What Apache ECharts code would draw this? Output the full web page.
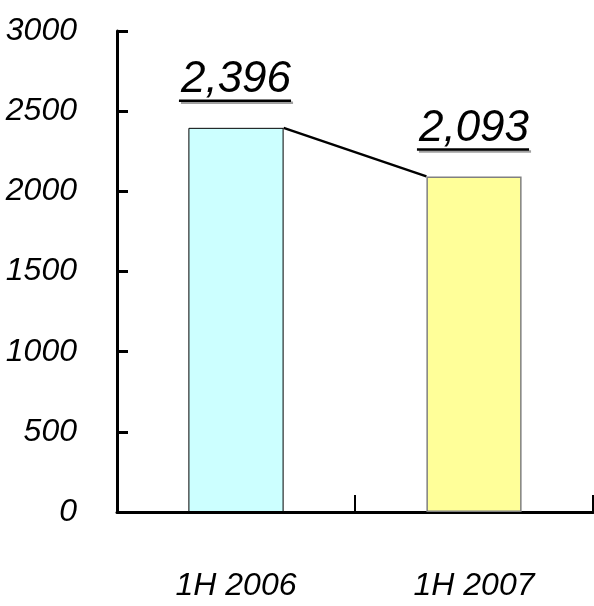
<!DOCTYPE html>
<html>
<head>
<meta charset="utf-8">
<script src="https://cdn.jsdelivr.net/npm/echarts@6/dist/echarts.min.js"></script>
<style>
  html, body { margin: 0; padding: 0; background: #fff; }
  #chart { width: 594px; height: 606px; }
</style>
</head>
<body>
<div id="chart"></div>
<script>
  // data
  var categories = ['1H 2006', '1H 2007'];
  var values = [2396, 2093];
  var valueLabels = ['2,396', '2,093'];
  var yTicks = { min: 0, max: 3000, step: 500 };

  var FONT = '"Liberation Sans Narrow", "Liberation Sans", Arial, sans-serif';
  var BAR_RATIO = 0.4;
  var LABEL_SIZE = 44;

  // measure text width so the underline matches the label
  var measureCtx = document.createElement('canvas').getContext('2d');
  function textWidth(txt) {
    measureCtx.font = 'italic ' + LABEL_SIZE + 'px ' + FONT;
    return measureCtx.measureText(txt).width;
  }

  // value label with underline + drop shadow, above each bar
  function renderValueLabel(params, api) {
    var pt = api.coord([api.value(0), api.value(1)]);
    var txt = valueLabels[params.dataIndex];
    var w = textWidth(txt);
    var x = pt[0];
    var lineY = pt[1] - 27;
    var x1 = x - w / 2 - 2, x2 = x + w / 2;
    return {
      type: 'group',
      children: [
        { type: 'line', shape: { x1: x1 + 2, y1: lineY + 2, x2: x2 + 2, y2: lineY + 2 },
          style: { stroke: '#a0a0a0', lineWidth: 2.5 } },
        { type: 'line', shape: { x1: x1, y1: lineY, x2: x2, y2: lineY },
          style: { stroke: '#000', lineWidth: 2.5 } },
        { type: 'text', style: {
            text: txt, x: x, y: pt[1] - 48, align: 'center', verticalAlign: 'middle',
            font: 'italic ' + LABEL_SIZE + 'px ' + FONT, fill: '#000',
            textShadowColor: '#a0a0a0', textShadowOffsetX: 2, textShadowOffsetY: 2, textShadowBlur: 0
        } }
      ]
    };
  }

  // series line joining the top of bar 1 to the top of bar 2
  function renderConnector(params, api) {
    var p1 = api.coord([api.value(0), api.value(1)]);
    var p2 = api.coord([api.value(2), api.value(3)]);
    var half = api.size([1, 0])[0] * BAR_RATIO / 2;
    return {
      type: 'line',
      shape: { x1: p1[0] + half, y1: p1[1], x2: p2[0] - half, y2: p2[1] },
      style: { stroke: '#000', lineWidth: 2.5 }
    };
  }

  var chart = echarts.init(document.getElementById('chart'));
  chart.setOption({
    animation: false,
    grid: { left: 117, right: 1, top: 31, bottom: 94, containLabel: false, outerBoundsMode: 'none' },
    xAxis: {
      type: 'category',
      data: categories,
      axisLine: { lineStyle: { color: '#000', width: 3 } },
      axisTick: { show: true, interval: 0, inside: true, length: 17, lineStyle: { color: '#000', width: 2 } },
      axisLabel: {
        margin: 58, color: '#000', fontStyle: 'italic', fontSize: 32, fontFamily: FONT
      },
      splitLine: { show: false }
    },
    yAxis: {
      type: 'value',
      min: yTicks.min,
      max: yTicks.max,
      interval: yTicks.step,
      axisLine: { show: true, lineStyle: { color: '#000', width: 3 } },
      axisTick: { show: true, inside: true, length: 11, lineStyle: { color: '#000', width: 3 } },
      axisLabel: {
        margin: 40, color: '#000', fontStyle: 'italic', fontSize: 32, fontFamily: FONT,
        formatter: function (v) { return String(v); }
      },
      splitLine: { show: false }
    },
    series: [
      {
        type: 'bar',
        barWidth: (BAR_RATIO * 100) + '%',
        data: [
          { value: values[0], itemStyle: { color: '#CCFFFF', borderColor: '#000', borderWidth: 1 } },
          { value: values[1], itemStyle: { color: '#FFFF99', borderColor: '#808080', borderWidth: 1.5 } }
        ]
      },
      {
        type: 'custom',
        renderItem: renderConnector,
        encode: { x: [0, 2], y: [1, 3] },
        data: [[0, values[0], 1, values[1]]],
        z: 3
      },
      {
        type: 'custom',
        renderItem: renderValueLabel,
        encode: { x: 0, y: 1 },
        data: values.map(function (v, i) { return [i, v]; }),
        z: 4
      }
    ]
  });
</script>
</body>
</html>
